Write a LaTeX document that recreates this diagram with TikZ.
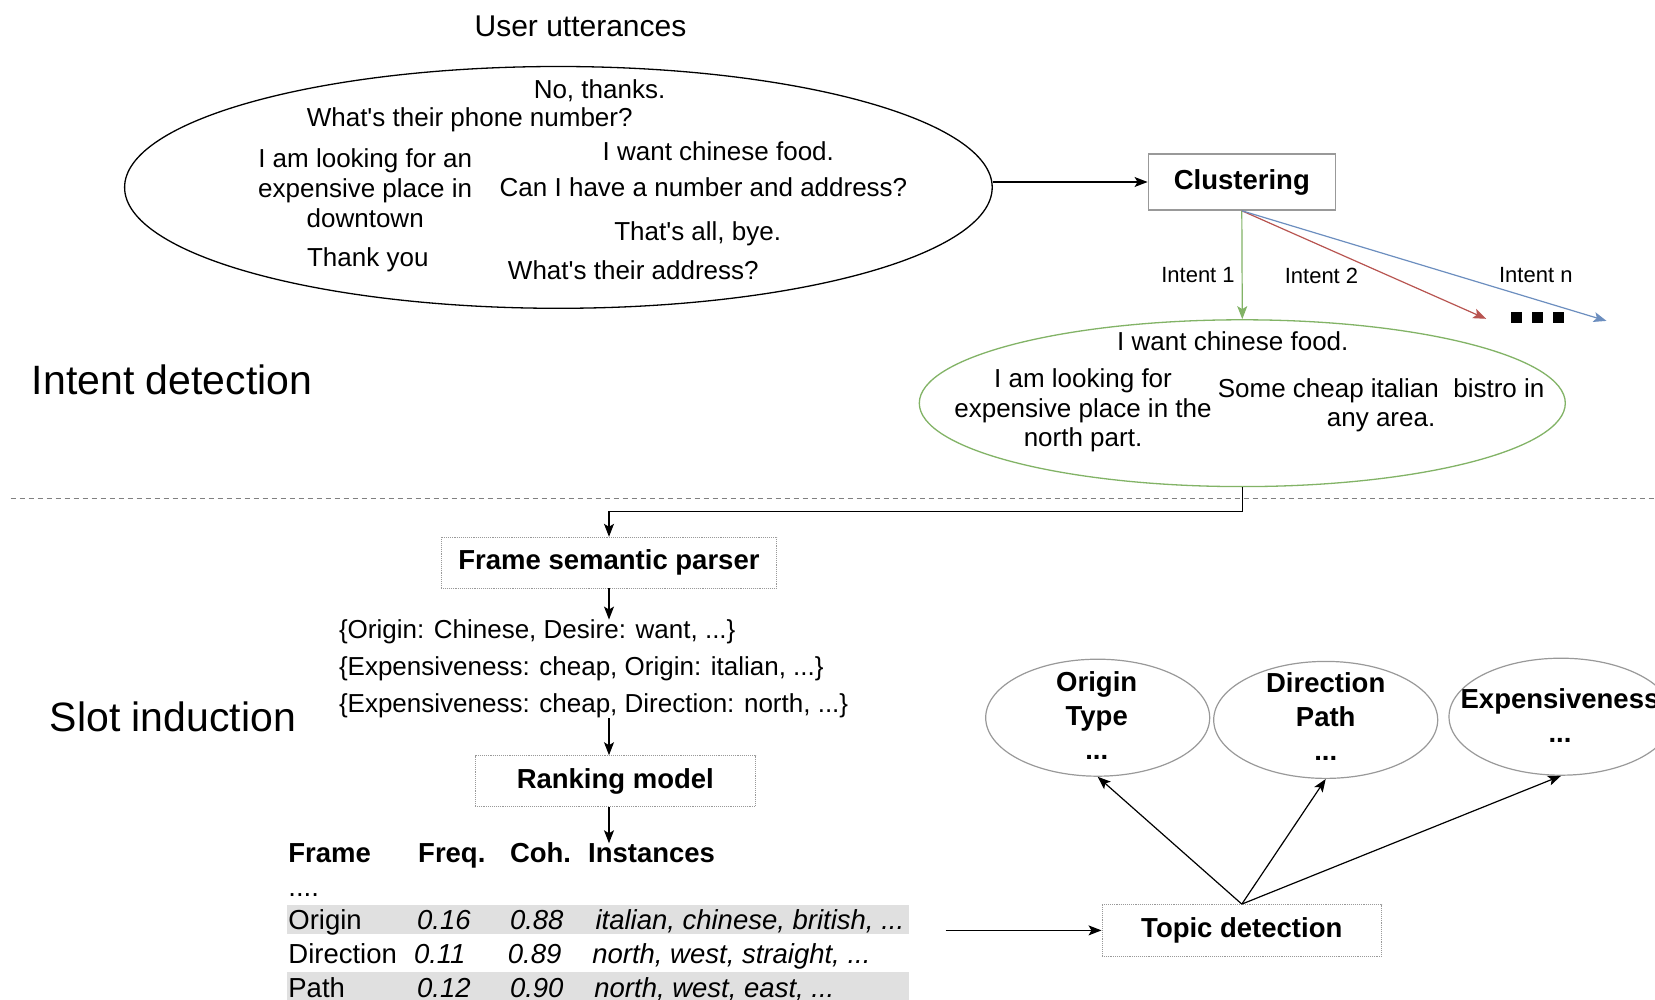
\documentclass[tikz,border=0pt]{standalone}
\usepackage{fontspec}
\setmainfont{Liberation Sans}
\usetikzlibrary{arrows.meta,shapes.geometric}
\definecolor{gline}{HTML}{82B366}
\definecolor{rline}{HTML}{B85450}
\definecolor{bline}{HTML}{6C8EBF}
\definecolor{boxgray}{HTML}{999999}
\definecolor{rowgray}{HTML}{E0E0E0}
\newcommand{\apos}{\textquotesingle}
\begin{document}
\begin{tikzpicture}[x=1pt,y=-1pt,
  >={Stealth[length=13pt,width=10pt,inset=3pt]},
  conn/.style={->,line width=1.2pt},
  txt/.style={font=\fontsize{26}{29.6}\selectfont,inner sep=0pt,align=center},
  tbl/.style={font=\fontsize{27.5}{33}\selectfont,inner sep=0pt,anchor=base west},
  tblit/.style={tbl,font=\fontsize{27.5}{33}\selectfont\itshape},
  tblhd/.style={tbl,font=\fontsize{27.5}{33}\selectfont\bfseries},
  label/.style={font=\fontsize{22}{26}\selectfont,inner sep=0pt},
  section/.style={font=\fontsize{41}{48}\selectfont,inner sep=0pt,anchor=west},
  ell/.style={ellipse,draw,line width=1.3pt,inner sep=0pt},
  slotell/.style={ell,draw=boxgray,line width=1.2pt,minimum width=224pt,minimum height=117pt},
  slottxt/.style={font=\fontsize{27.5}{34}\selectfont\bfseries,inner sep=0pt,align=center},
  procbox/.style={draw=boxgray,line width=0.9pt,densely dotted,inner sep=0pt,
                  font=\fontsize{27.5}{33}\selectfont\bfseries},
]
\clip (0,0) rectangle (1655,1000);
\fill[white] (0,0) rectangle (1655,1000);

% ---------- intent detection ----------
\node[txt,font=\fontsize{30}{34}\selectfont] (title) at (580.5,26.4) {User utterances};

\node[ell,minimum width=867.6pt,minimum height=241.8pt] (utter) at (558.4,187.4) {};
\node[txt] (u1) at (599.5,90.8) {No, thanks.};
\node[txt] (u2) at (469.7,119.3) {What\apos s their phone number?};
\node[txt] (u3) at (365.2,188.2) {I am looking for an\\expensive place in\\downtown};
\node[txt] (u4) at (718.3,150.9) {I want chinese food.};
\node[txt] (u5) at (703.5,186.8) {Can I have a number and address?};
\node[txt] (u6) at (697.7,233.3) {That\apos s all, bye.};
\node[txt] (u7) at (367.8,259.7) {Thank you};
\node[txt] (u8) at (633.3,270.2) {What\apos s their address?};

\node[draw=boxgray,line width=1.5pt,fill=white,minimum width=187pt,minimum height=56pt,
      inner sep=0pt,font=\fontsize{27.5}{33}\selectfont\bfseries] (clust) at (1241.8,182) {Clustering};
\draw[conn] (clust.west -| utter.east) -- (clust.west);

\node[ell,draw=gline,minimum width=646pt,minimum height=166.8pt] (group) at (1242.3,403.2) {};
\node[txt] (g1) at (1232.8,340.9) {I want chinese food.};
\node[txt] (g2) at (1083,410.6) {I am looking for\\expensive place in the\\north part.};
\node[txt] (g3) at (1381.1,405.2) {Some cheap italian\ \ bistro in\\any area.};

\coordinate (i2end) at (1486.1,318.8);
\coordinate (inend) at (1606.5,320.9);
\draw[conn,gline] (clust.south) -- (group.north);
\draw[conn,rline] (clust.south) -- (i2end);
\draw[conn,bline] (clust.south) -- (inend);
\node[label] (l1) at (1198,275.5) {Intent 1};
\node[label] (l2) at (1321.5,275.5) {Intent 2};
\node[label] (ln) at (1535.8,275.5) {Intent n};
\foreach \sx in {1516.7,1537.8,1558.9}
  \fill (\sx-5.5,312.2) rectangle (\sx+5.5,323.2);

\node[section] (secA) at (31.7,380) {Intent detection};

\draw[gray,line width=1pt,dash pattern=on 5pt off 4pt] (10.6,498.2) -- (1655,498.2);

% ---------- slot induction ----------
\node[section] (secB) at (49.6,716.7) {Slot induction};

\node[procbox,minimum width=335.6pt,minimum height=50.7pt] (fsp) at (609,562.6) {Frame semantic parser};
\draw[conn] (group.south) -- ++(0,24.3) -| (fsp.north);

\node[tbl,font=\fontsize{26}{30}\selectfont] (s1) at (338.8,638.6) {\{Origin: Chinese, Desire: want, ...\}};
\node[tbl,font=\fontsize{26}{30}\selectfont] (s2) at (338.8,675.5) {\{Expensiveness: cheap, Origin: italian, ...\}};
\node[tbl,font=\fontsize{26}{30}\selectfont] (s3) at (338.8,712.5) {\{Expensiveness: cheap, Direction: north, ...\}};
\draw[conn] (fsp.south) -- (fsp.south |- s1.north);

\node[procbox,minimum width=280.7pt,minimum height=50.7pt] (rank) at (615.3,781) {Ranking model};
\draw[conn] (fsp.south |- s3.south) -- (fsp.south |- rank.north);

% ranked frame table
\fill[rowgray] (287.1,904.6) rectangle (908.8,934.1);
\fill[rowgray] (287.1,972.1) rectangle (908.8,1000);
\node[tblhd] (h1) at (288.2,862.4) {Frame};
\node[tblhd] (h2) at (418,862.4) {Freq.};
\node[tblhd] (h3) at (509.8,862.4) {Coh.};
\node[tblhd] (h4) at (587.9,862.4) {Instances};
\draw[conn] (fsp.south |- rank.south) -- (fsp.south |- h4.north);
\node[tbl] (r0) at (288.2,896) {....};
\node[tbl] (r1a) at (288.2,929.9) {Origin};
\node[tblit] (r1b) at (416.9,929.9) {0.16};
\node[tblit] (r1c) at (509.8,929.9) {0.88};
\node[tblit] (r1d) at (595.3,929.9) {italian, chinese, british, ...};
\node[tbl] (r2a) at (288.2,963.7) {Direction};
\node[tblit] (r2b) at (413.8,963.7) {0.11};
\node[tblit] (r2c) at (507.7,963.7) {0.89};
\node[tblit] (r2d) at (592.1,963.7) {north, west, straight, ...};
\node[tbl] (r3a) at (288.2,997.5) {Path};
\node[tblit] (r3b) at (416.9,997.5) {0.12};
\node[tblit] (r3c) at (509.8,997.5) {0.90};
\node[tblit] (r3d) at (594.2,997.5) {north, west, east, ...};

\node[procbox,minimum width=279.7pt,minimum height=51.7pt] (topic) at (1241.8,930.4) {Topic detection};
\coordinate (tabend) at (945.7,930.4);
\draw[conn] (tabend) -- (topic.west);

\node[slotell] (e1) at (1097.7,717.7) {};
\node[slotell] (e2) at (1325.7,719.9) {};
\node[slotell] (e3) at (1561,716.7) {};
\node[slottxt] (t1) at (1096.7,715.5) {Origin\\Type\\...};
\node[slottxt] (t2) at (1325.7,717) {Direction\\Path\\...};
\node[slottxt] (t3) at (1560,715.5) {Expensiveness\\...};

\draw[conn] (topic.north) -- (e1.south);
\draw[conn] (topic.north) -- (e2.south);
\draw[conn] (topic.north) -- (e3.south);
\end{tikzpicture}
\end{document}
